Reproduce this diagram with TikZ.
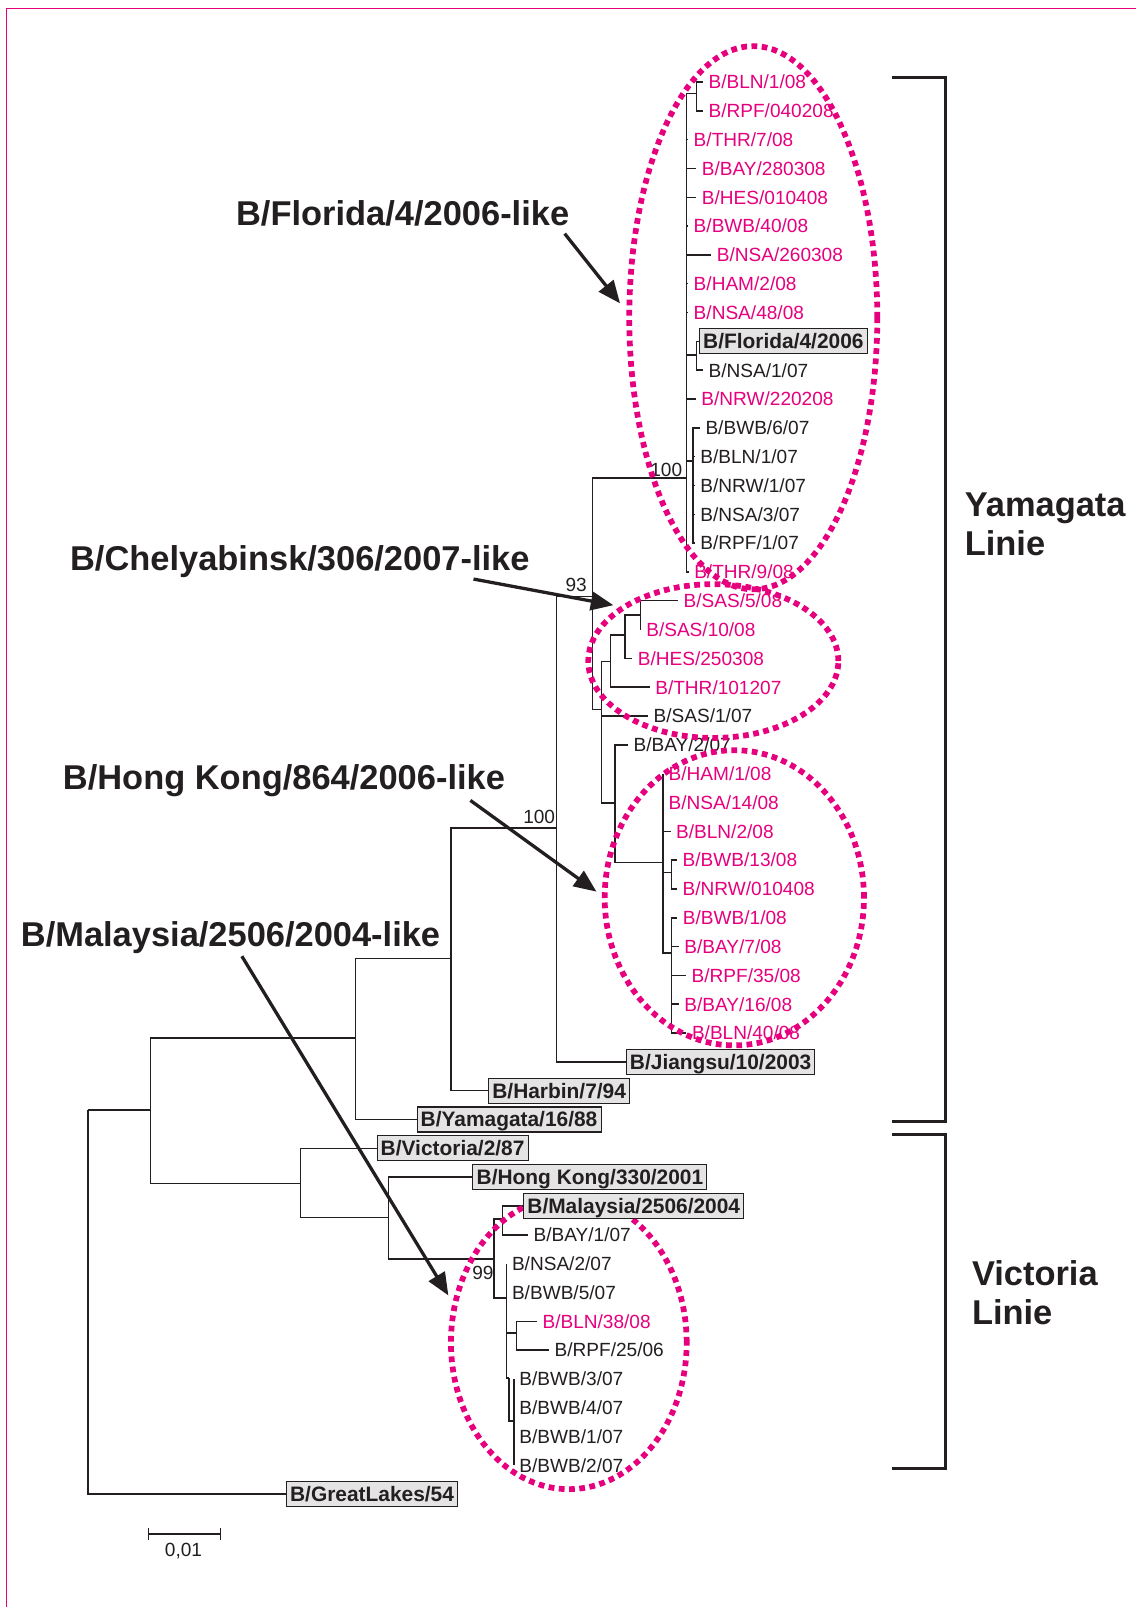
\documentclass[tikz,border=0pt]{standalone}
\usepackage{fontspec}
\setmainfont{Liberation Sans}
\usetikzlibrary{arrows.meta}
\definecolor{pk}{HTML}{E6007E}
\definecolor{ink}{HTML}{231F20}
\definecolor{boxgray}{HTML}{E4E4E4}
\newcommand\ry[1]{80+(#1-1)*28.12}
\newcommand\lf[5]{\coordinate (#1) at (#2,{\ry{#3}});\node[leaflab,#4] (#1-l) at (#1) {#5};}
\newcommand\bc[3]{\coordinate (#1) at (#2,{\ry{#3}});}
\begin{document}
\begin{tikzpicture}[x=0.5pt,y=-0.5pt,
  br/.style={draw=ink,line width=0.72pt},
  leaflab/.style={anchor=west,inner sep=0pt,xshift=2.5pt,font=\fontsize{9.3}{11}\selectfont,text height=6.66pt,text depth=0pt},
  pt/.style={text=pk},
  bt/.style={text=ink},
  boxlab/.style={anchor=west,draw=ink,fill=boxgray,line width=0.5pt,inner xsep=1.8pt,inner ysep=1pt,font=\fontsize{10.2}{12}\selectfont\bfseries,text=ink,text height=8.75pt,text depth=1.45pt},
  boot/.style={inner sep=0pt,font=\fontsize{9.3}{11}\selectfont,text=ink,text height=6.66pt,text depth=0pt},
  biglab/.style={anchor=west,inner sep=0pt,font=\fontsize{16.8}{20}\selectfont\bfseries,text=ink,text height=12pt,text depth=0pt},
  pinkdot/.style={draw=pk,line width=2.8pt,dash pattern=on 2.8pt off 2.2pt},
  arr/.style={draw=ink,line width=1.6pt,-{Triangle[length=11pt,width=9pt]}},
  brk/.style={draw=ink,line width=1.6pt}
]
\useasboundingbox (0,0) rectangle (1108,1568);
\fill[white] (0,0) rectangle (1108,1568);
% frame
\coordinate (fr1) at (1108,8.1);
\coordinate (fr2) at (6.2,8.1);
\coordinate (fr3) at (6.2,1568);
\draw[pk,line width=0.7pt] (fr1) -- (fr2) -- (fr3);

% internal nodes
\coordinate (R) at (86,1083);
\coordinate (A) at (147,1083);
\coordinate (B) at (347,1013);
\coordinate (C) at (440,935);
\coordinate (D) at (543,808);
\coordinate (E) at (578,582);
\coordinate (F) at (670,466.6);
\coordinate (F1) at (679.5,91);
\coordinate (F2) at (679.5,346.3);
\coordinate (F3) at (676,450);
\coordinate (G) at (587,692.5);
\coordinate (H) at (595.7,645.4);
\coordinate (H1) at (609.6,619.4);
\coordinate (H2) at (625.2,600);
\coordinate (I) at (600,783.6);
\coordinate (J) at (647,841.4);
\coordinate (J1) at (655.1,851.2);
\coordinate (J2) at (655,929.9);
\coordinate (V) at (293,1155);
\coordinate (W) at (379,1188);
\coordinate (X) at (482,1228.4);
\coordinate (X1) at (490.3,1189.3);
\coordinate (X2) at (494.2,1266.4);
\coordinate (X3) at (504,1300.5);
\coordinate (X4) at (496.8,1344.4);
\coordinate (X5) at (501.4,1386.7);

% leaves
\lf{tBLN108}{686}{1}{pt}{B/BLN/1/08}
\lf{tRPF0402}{686}{2}{pt}{B/RPF/040208}
\lf{tTHR7}{671.5}{3}{pt}{B/THR/7/08}
\lf{tBAY2803}{679.5}{4}{pt}{B/BAY/280308}
\lf{tHES0104}{679.5}{5}{pt}{B/HES/010408}
\lf{tBWB40}{671.5}{6}{pt}{B/BWB/40/08}
\lf{tNSA2603}{694}{7}{pt}{B/NSA/260308}
\lf{tHAM2}{671.5}{8}{pt}{B/HAM/2/08}
\lf{tNSA48}{671.5}{9}{pt}{B/NSA/48/08}
\bc{tFlo}{682}{10}
\lf{tNSA107}{686}{11}{bt}{B/NSA/1/07}
\lf{tNRW2202}{679}{12}{pt}{B/NRW/220208}
\lf{tBWB607}{683}{13}{bt}{B/BWB/6/07}
\lf{tBLN107}{678}{14}{bt}{B/BLN/1/07}
\lf{tNRW107}{678}{15}{bt}{B/NRW/1/07}
\lf{tNSA307}{678}{16}{bt}{B/NSA/3/07}
\lf{tRPF107}{678}{17}{bt}{B/RPF/1/07}
\lf{tTHR9}{672}{18}{pt}{B/THR/9/08}
\lf{tSAS508}{661.6}{19}{pt}{B/SAS/5/08}
\lf{tSAS1008}{625.2}{20}{pt}{B/SAS/10/08}
\lf{tHES2503}{617}{21}{pt}{B/HES/250308}
\lf{tTHR1012}{634}{22}{pt}{B/THR/101207}
\lf{tSAS107}{632.4}{23}{bt}{B/SAS/1/07}
\lf{tBAY207}{612.9}{24}{bt}{B/BAY/2/07}
\lf{tHAM108}{647}{25}{pt}{B/HAM/1/08}
\lf{tNSA1408}{647}{26}{pt}{B/NSA/14/08}
\lf{tBLN208}{654.3}{27}{pt}{B/BLN/2/08}
\lf{tBWB1308}{660.7}{28}{pt}{B/BWB/13/08}
\lf{tNRW0104}{660.7}{29}{pt}{B/NRW/010408}
\lf{tBWB108}{661}{30}{pt}{B/BWB/1/08}
\lf{tBAY708}{662.4}{31}{pt}{B/BAY/7/08}
\lf{tRPF3508}{669.5}{32}{pt}{B/RPF/35/08}
\lf{tBAY1608}{662.4}{33}{pt}{B/BAY/16/08}
\lf{tBLN4008}{669.8}{34}{pt}{B/BLN/40/08}
\bc{tJia}{610.6}{35}
\bc{tHar}{476.3}{36}
\bc{tYam}{406.4}{37}
\bc{tVic}{367.4}{38}
\bc{tHK}{461}{39}
\bc{tMal}{510.5}{40}
\lf{tBAY107}{515.3}{41}{bt}{B/BAY/1/07}
\lf{tNSA207}{494.2}{42}{bt}{B/NSA/2/07}
\lf{tBWB507}{494.2}{43}{bt}{B/BWB/5/07}
\lf{tBLN3808}{524}{44}{pt}{B/BLN/38/08}
\lf{tRPF2506}{535.8}{45}{bt}{B/RPF/25/06}
\lf{tBWB307}{501.4}{46}{bt}{B/BWB/3/07}
\lf{tBWB407}{501.4}{47}{bt}{B/BWB/4/07}
\lf{tBWB107}{501.4}{48}{bt}{B/BWB/1/07}
\lf{tBWB207}{501.4}{49}{bt}{B/BWB/2/07}
\bc{tGL}{279}{50}

% branches
\foreach \p/\c in {R/A,R/tGL,A/B,A/V,B/C,B/tYam,C/D,C/tHar,D/E,D/tJia,E/F,E/G,
  F/F1,F/tTHR7,F/tBAY2803,F/tHES0104,F/tBWB40,F/tNSA2603,F/tHAM2,F/tNSA48,F/F2,F/tNRW2202,F/F3,F/tTHR9,
  F1/tBLN108,F1/tRPF0402,F2/tFlo,F2/tNSA107,
  F3/tBWB607,F3/tBLN107,F3/tNRW107,F3/tNSA307,F3/tRPF107,
  G/H,G/tSAS107,G/I,H/H1,H/tTHR1012,H1/H2,H1/tHES2503,H2/tSAS508,H2/tSAS1008,
  I/tBAY207,I/J,J/tHAM108,J/tNSA1408,J/tBLN208,J/J1,J/J2,J1/tBWB1308,J1/tNRW0104,
  J2/tBWB108,J2/tBAY708,J2/tRPF3508,J2/tBAY1608,J2/tBLN4008,
  V/tVic,V/W,W/tHK,W/X,X/X1,X/X2,X1/tMal,X1/tBAY107,
  X2/tNSA207,X2/tBWB507,X2/X3,X2/X4,X3/tBLN3808,X3/tRPF2506,X4/X5,
  X5/tBWB307,X5/tBWB407,X5/tBWB107,X5/tBWB207}
  {\draw[br] (\p) |- (\c);}

% bootstrap values
\node[boot,anchor=east,xshift=-0.5pt,yshift=5.5pt] (bD) at (D) {100};
\node[boot,anchor=east,xshift=-2.5pt,yshift=6pt] (bE) at (E) {93};
\node[boot,anchor=east,xshift=-2pt,yshift=4.3pt] (bF) at (F) {100};
\node[boot,anchor=east,xshift=0pt,yshift=-6.8pt] (bX) at (X) {99};

% ellipses
\draw[pinkdot] (735,310) ellipse [x radius=60.5pt, y radius=132.5pt];
\draw[pinkdot] (696,645) ellipse [x radius=61pt, y radius=37.5pt];
\draw[pinkdot] (716.5,876) ellipse [x radius=63.25pt, y radius=72pt];
\draw[pinkdot] (555,1310) ellipse [x radius=57.5pt, y radius=71.5pt];

% boxed reference strains
\node[boxlab] (tFlo-l) at (tFlo) {B/Florida/4/2006};
\node[boxlab] (tJia-l) at (tJia) {B/Jiangsu/10/2003};
\node[boxlab] (tHar-l) at (tHar) {B/Harbin/7/94};
\node[boxlab] (tYam-l) at (tYam) {B/Yamagata/16/88};
\node[boxlab] (tVic-l) at (tVic) {B/Victoria/2/87};
\node[boxlab] (tHK-l) at (tHK) {B/Hong Kong/330/2001};
\node[boxlab] (tMal-l) at (tMal) {B/Malaysia/2506/2004};
\node[boxlab] (tGL-l) at (tGL) {B/GreatLakes/54};

% big labels and arrows
\node[biglab] (lFlo) at (230,208) {B/Florida/4/2006-like};
\node[biglab] (lChe) at (68,545) {B/Chelyabinsk/306/2007-like};
\node[biglab] (lHK) at (61,758) {B/Hong Kong/864/2006-like};
\node[biglab] (lMal) at (20,912) {B/Malaysia/2506/2004-like};
\coordinate (aFs) at (551,228); \coordinate (aFe) at (605,296);
\coordinate (aCs) at (462,565); \coordinate (aCe) at (598.5,590.5);
\coordinate (aHs) at (459,781); \coordinate (aHe) at (582,870);
\coordinate (aMs) at (236,933); \coordinate (aMe) at (437.5,1264);
\draw[arr] (aFs) -- (aFe);
\draw[arr] (aCs) -- (aCe);
\draw[arr] (aHs) -- (aHe);
\draw[arr] (aMs) -- (aMe);

% lineage brackets
\coordinate (y1) at (870.7,75.4); \coordinate (y2) at (922.6,75.4);
\coordinate (y3) at (922.6,1094); \coordinate (y4) at (870.7,1094);
\draw[brk] (y1) -- (y2) -- (y3) -- (y4);
\coordinate (v1) at (870.7,1107); \coordinate (v2) at (922.6,1107);
\coordinate (v3) at (922.6,1432.9); \coordinate (v4) at (870.7,1432.9);
\draw[brk] (v1) -- (v2) -- (v3) -- (v4);
\node[biglab] (lYam1) at (941,492) {Yamagata};
\node[biglab] (lYam2) at (941,530) {Linie};
\node[biglab] (lVic1) at (948,1242) {Victoria};
\node[biglab] (lVic2) at (948,1280) {Linie};

% scale bar
\coordinate (s1) at (145,1497); \coordinate (s2) at (215,1497);
\draw[br,line width=0.8pt] (s1) -- (s2);
\draw[br,line width=0.8pt] (145,1491) -- (145,1503);
\draw[br,line width=0.8pt] (215,1491) -- (215,1503);
\node[boot] (sl) at (179,1512) {0,01};
\end{tikzpicture}
\end{document}
